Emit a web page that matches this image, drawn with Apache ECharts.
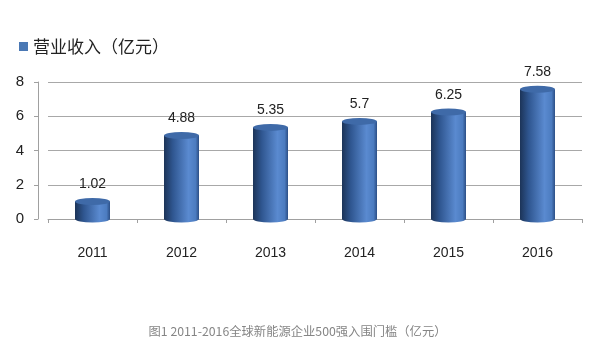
<!DOCTYPE html>
<html><head><meta charset="utf-8">
<script src="https://cdn.jsdelivr.net/npm/echarts@6/dist/echarts.min.js"></script>
<style>html,body{margin:0;padding:0;background:#fff}#c{width:595px;height:355px}</style>
</head><body><div id="c"></div>
<script>
const categories = ['2011','2012','2013','2014','2015','2016'];
const revenue = [1.02, 4.88, 5.35, 5.7, 6.25, 7.58];
const yTicks = [0, 2, 4, 6, 8];
const seriesName = '营业收入（亿元）';
const caption = '图1 2011-2016全球新能源企业500强入围门槛（亿元）';

const chart = echarts.init(document.getElementById('c'));
const barGrad = new echarts.graphic.LinearGradient(0,0,1,0,[
  {offset:0,color:'#1c3458'},
  {offset:0.25,color:'#2f5690'},
  {offset:0.7,color:'#5a8ad0'},
  {offset:0.9,color:'#4c7cc0'},
  {offset:1,color:'#2c4f86'}
]);
chart.setOption({
  animation:false,
  title:{text:caption,left:'center',bottom:13,textStyle:{fontSize:12.3,fontWeight:'normal',color:'#858585',fontFamily:'Noto Sans CJK SC'}},
  legend:{data:[seriesName],left:14,top:33,icon:'rect',itemWidth:9,itemHeight:9,itemGap:4,
    itemStyle:{color:'#4a78b4'},
    textStyle:{fontSize:17,color:'#222',fontFamily:'Noto Sans CJK SC'}},
  grid:{left:48,right:13,top:82,bottom:136},
  xAxis:{type:'category',data:categories,
    axisLine:{lineStyle:{color:'#a0a0a0'}},
    axisTick:{show:true,length:4,lineStyle:{color:'#a0a0a0'}},
    axisLabel:{margin:27,fontSize:14,color:'#222',fontFamily:'Liberation Sans'}},
  yAxis:{type:'value',min:yTicks[0],max:yTicks[yTicks.length-1],interval:2,offset:10,
    axisLine:{show:true,lineStyle:{color:'#a0a0a0'}},
    axisTick:{show:true,length:4,lineStyle:{color:'#a0a0a0'}},
    splitLine:{lineStyle:{color:'#a8a8a8'}},
    axisLabel:{margin:14,fontSize:15,color:'#222',fontFamily:'Liberation Sans'}},
  series:[
    {name:seriesName,type:'bar',data:revenue,barWidth:35,
     itemStyle:{color:barGrad},
     label:{show:true,position:'top',distance:10,fontSize:14,color:'#222',fontFamily:'Liberation Sans'}},
    {name:'cap',type:'pictorialBar',data:revenue,symbol:'circle',symbolSize:[35,7],
     symbolPosition:'end',symbolOffset:[0,'-50%'],z:3,
     itemStyle:{color:'#3f6aa8'}},
    {name:'base',type:'pictorialBar',data:revenue,symbol:'circle',symbolSize:[35,7],
     symbolPosition:'start',symbolOffset:[0,'50%'],z:1,
     itemStyle:{color:barGrad}}
  ]
});
</script></body></html>
